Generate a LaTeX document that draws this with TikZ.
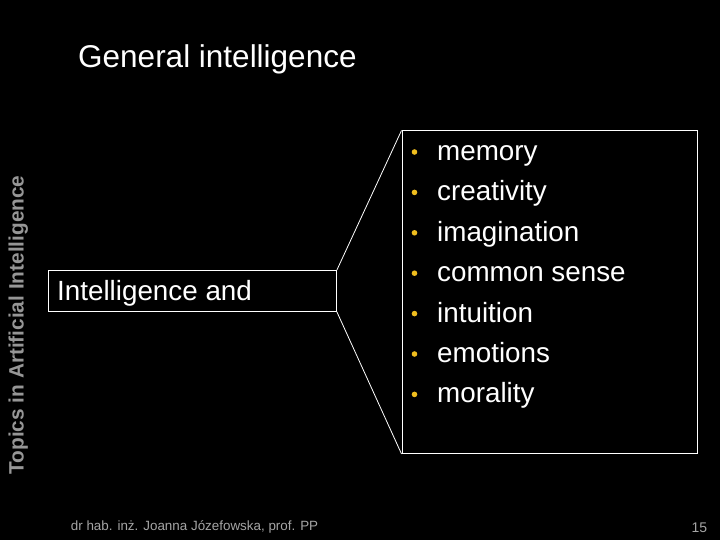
\documentclass[tikz,border=0pt]{standalone}
\usepackage{fontspec}
\setmainfont{Liberation Sans}
\definecolor{bulletyellow}{RGB}{240,190,30}
\definecolor{sidegray}{RGB}{150,150,150}
\definecolor{footgray}{RGB}{165,165,165}
\begin{document}
\begin{tikzpicture}[x=1pt,y=-1pt,
  txt/.style={inner sep=0pt, anchor=base west, text=white},
  item/.style={txt, font=\fontsize{27.8}{30}\selectfont},
  dot/.style={circle, fill=bulletyellow, inner sep=0pt, minimum size=5.6pt},
  frame/.style={draw=white, line width=0.9pt, inner sep=0pt, anchor=north west},
  link/.style={draw=white, line width=0.8pt}]
\fill[black] (0,0) rectangle (720,540);
\useasboundingbox (0,0) rectangle (720,540);
% title
\node[txt, font=\fontsize{31.5}{36}\selectfont] (title) at (78,68) {General intelligence};
% side label
\node[inner sep=0pt, anchor=base, rotate=90, text=sidegray, font=\fontsize{20.8}{24}\selectfont\bfseries] (side) at (23.5,325) {Topics in Artificial Intelligence};
% left box
\node[frame, minimum width=288pt, minimum height=41pt] (L) at (48,270) {};
\node[txt, font=\fontsize{27.8}{30}\selectfont] (Ltext) at (57,300.5) {Intelligence and};
% right box
\node[frame, minimum width=295pt, minimum height=322.5pt] (R) at (401.5,130.5) {};
% connectors
\draw[link] (L.north east) -- (R.north west);
\draw[link] (L.south east) -- (R.south west);
% list items
\foreach \t [count=\i from 0] in {memory,creativity,imagination,common sense,intuition,emotions,morality}{
  \node[item] (it\i) at (437,{160.5+40.4*\i}) {\t};
  \node[dot] (b\i) at (414.5,{152+40.4*\i}) {};
}
% footer
\node[txt, text=footgray, font=\fontsize{13.4}{16}\selectfont] (foot) at (70.7,530.5) {dr hab. inż. Joanna Józefowska, prof. PP};
\node[txt, text=footgray, font=\fontsize{14}{16}\selectfont] (page) at (691.5,532.5) {15};
\end{tikzpicture}
\end{document}
